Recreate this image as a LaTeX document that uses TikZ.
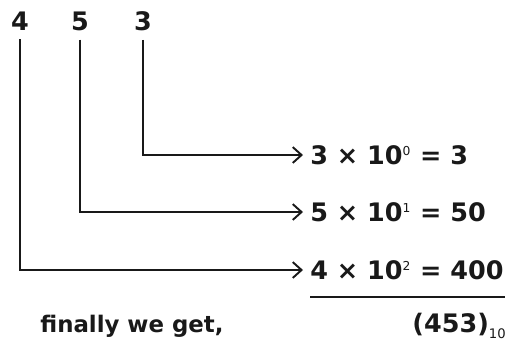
\documentclass[tikz,border=0pt]{standalone}
\usepackage{fontspec}
\setmainfont{DejaVu Sans}
\usetikzlibrary{arrows.meta,positioning}
\definecolor{InkBlack}{RGB}{25,25,25}

\newcommand{\pw}[1]{\textsuperscript{\mdseries\fontsize{7}{8}\selectfont #1}}
\newcommand{\bs}[1]{\raisebox{-0.45ex}{\mdseries\fontsize{7.5}{8}\selectfont #1}}

\begin{document}
\begin{tikzpicture}[
          dg/.style={inner xsep=2pt,inner ysep=5pt,font=\fontsize{14.5}{16}\selectfont\bfseries,text=InkBlack},
          tx/.style={inner sep=0pt,font=\fontsize{13}{15}\selectfont\bfseries,text=InkBlack},
          rs/.style={anchor=west,inner xsep=4pt,inner ysep=1pt,
                     font=\fontsize{14.5}{16}\selectfont\bfseries,text=InkBlack},
          ar/.style={-{Straight Barb[length=5pt,width=9pt]},line width=1.1pt,InkBlack}
        ]
          \useasboundingbox (0,0) rectangle (10.28,-6.98);

          % digits of the number
          \node(d4)[dg] at (0.40,-0.42){4};
          \node(d5)[dg] at (1.60,-0.42){5};
          \node(d3)[dg] at (2.86,-0.42){3};

          % place values
          \node(r0)[rs] at (6.06,-3.10){3 × 10\pw{0} = 3};
          \node(r1)[rs] at (6.06,-4.24){5 × 10\pw{1} = 50};
          \node(r2)[rs] at (6.06,-5.40){4 × 10\pw{2} = 400};

          \draw[ar] (d3) |- (r0);
          \draw[ar] (d5) |- (r1);
          \draw[ar] (d4) |- (r2);

          % sum line
          \coordinate(u1) at (6.20,-5.94);
          \coordinate(u2) at (10.10,-5.94);
          \draw[line width=1.1pt,InkBlack] (u1) -- (u2);

          \node(fin)[tx,anchor=west] at (0.80,-6.52){finally we get,};
          \node(tot)[tx,font=\fontsize{14.5}{16}\selectfont\bfseries,anchor=east] at (10.12,-6.52){(453)\bs{10}};
        \end{tikzpicture}
\end{document}
